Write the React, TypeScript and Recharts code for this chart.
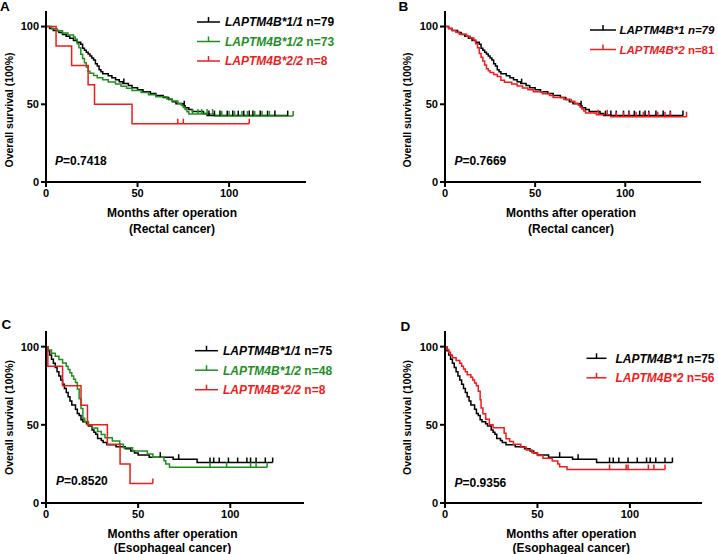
import React from 'react';
import { LineChart, Line, XAxis, YAxis } from 'recharts';

// [months, survival %, censored?]
type Pt = [number, number, number?];

const FONT = '"Liberation Sans", Arial, sans-serif';
const BLACK = '#000000';
const GREEN = '#1f8f1f';
const RED = '#ee1c1c';

const xTicks = [0, 50, 100];
const yTicks = [0, 50, 100];

// Rectal cancer, LAPTM4B*1/1 (n=79)
const rectal11: Pt[] = [
  [0, 100], [2, 98.7], [4, 97.5], [7, 96.2], [9, 94.9], [11, 93.7], [13, 92.4], [15, 91.1],
  [17, 89.9], [19, 88.6], [20, 86.1], [21, 84.8], [22, 83.5], [23, 82.3], [24, 81], [25, 79.7],
  [26, 78.5], [27, 76], [28, 74.7], [29, 72.2], [30, 70.9], [31, 69.6], [34, 68.4], [36, 67.1],
  [38, 65.8], [40, 64.5], [42, 63.3], [42.5, 63.3, 1], [45, 62], [47, 60.7], [50, 59.4], [53, 58.1],
  [57, 56.9], [60, 55.6], [64, 54.3], [67, 53], [69, 51.7], [71, 50.4], [75, 49.1], [75.5, 49.1, 1],
  [76, 47.8], [78, 46.6], [80, 45.3], [86, 44], [88, 42.7], [89, 42.7, 1], [92, 42.7, 1],
  [95, 42.7, 1], [99, 42.7, 1], [102, 42.7, 1], [105, 42.7, 1], [108, 42.7, 1], [111, 42.7, 1],
  [113, 42.7, 1], [117, 42.7, 1], [121, 42.7, 1], [125, 42.7, 1], [132, 42.7, 1],
];

// Rectal cancer, LAPTM4B*1/2 (n=73)
const rectal12: Pt[] = [
  [0, 100], [3, 98.6], [6, 97.3], [9, 95.9], [12, 94.5], [15, 93.2], [16, 91.8], [17, 89],
  [18, 86.3], [19, 82.2], [20, 79.5], [21, 76.7], [22, 74], [23, 71.2], [24, 69.9], [26, 68.5],
  [28, 67.1], [31, 65.8], [34, 64.4], [38, 63], [41, 61.6], [44, 60.3], [47, 58.9], [52, 57.5],
  [56, 56.2], [60, 54.8], [66, 53.4], [69, 52.1], [72, 50.7], [74, 49.3], [75, 47.9], [76, 46.6],
  [77, 45.2], [78, 43.8], [80, 43.8, 1], [83, 43.8, 1], [85, 43.8, 1], [88, 43.8, 1], [91, 43.8, 1],
  [92, 42.5], [96, 42.5, 1], [100, 42.5, 1], [103, 42.5, 1], [107, 42.5, 1], [110, 42.5, 1],
  [114, 42.5, 1], [118, 42.5, 1], [122, 42.5, 1], [135, 42.5, 1],
];

// Rectal cancer, LAPTM4B*2/2 (n=8)
const rectal22: Pt[] = [
  [0, 100], [5.5, 87.5], [14, 75], [23, 62.5], [26.5, 50], [47, 37.5],
  [72, 37.5, 1], [75, 37.5, 1], [111, 37.5, 1],
];

// Rectal cancer, LAPTM4B*2 carriers (n=81)
const rectal2: Pt[] = [
  [0, 100], [2, 98.8], [4, 97.5], [6, 96.3], [8, 95.1], [12, 93.8], [14, 92.6], [16, 91.4],
  [17, 88.9], [18, 86.4], [19, 82.7], [20, 80.2], [21, 77.8], [22, 75.3], [23, 72.8], [24, 71.6],
  [25, 70.4], [27, 69.1], [29, 67.9], [31, 65.4], [33, 64.2], [37, 63], [40, 61.7], [43, 60.5],
  [46, 59.3], [49, 58], [54, 56.8], [58, 55.6], [60, 54.3], [66, 53.1], [70, 51.9], [72, 50.6],
  [74, 49.4], [75, 48.1], [76, 46.9], [77, 45.7], [78, 44.4], [84, 43.2], [85, 43.2, 1],
  [90, 43.2, 1], [92, 42], [95, 42, 1], [99, 42, 1], [102, 42, 1], [106, 42, 1], [110, 42, 1],
  [113, 42, 1], [118, 42, 1], [122, 42, 1], [125, 42, 1], [134, 42, 1],
];

// Esophageal cancer, LAPTM4B*1/1 (n=75)
const eso11: Pt[] = [
  [0, 100], [1, 97.3], [2, 94.7], [3, 92], [4, 89.3], [5, 86.7], [6, 84], [7, 81.3], [8, 78.7],
  [9, 76], [10, 73.3], [11, 70.7], [12, 68], [13, 65.3], [14, 62.7], [16, 60], [17, 57.3],
  [18, 56], [19, 53.3], [20, 52], [22, 50.7], [23, 49.3], [25, 46.7], [26, 45.3], [27, 44],
  [28, 41.3], [30, 40], [31, 38.7], [33, 37.3], [38, 36], [43, 34.7], [46, 33.3], [48, 32],
  [50, 30.7], [56, 29.3], [62, 29.3, 1], [69, 28], [72, 28, 1], [82, 25.9], [89, 25.9, 1],
  [91, 25.9, 1], [94, 25.9, 1], [99, 25.9, 1], [104, 25.9, 1], [109, 25.9, 1], [111, 25.9, 1],
  [114, 25.9, 1], [119, 25.9, 1], [123, 25.9, 1],
];

// Esophageal cancer, LAPTM4B*1/2 (n=48)
const eso12: Pt[] = [
  [0, 100], [1, 97.9], [3, 95.8], [5, 93.8], [7, 91.7], [9, 89.6], [11, 87.5], [12, 85.4],
  [13, 83.3], [14, 81.3], [15, 79.2], [16, 77.1], [17, 72.9], [18, 66.7], [19, 60.4], [20, 54.2],
  [21, 52.1], [23, 50], [25, 47.9], [28, 45.8], [30, 43.8], [32, 41.7], [36, 39.6], [40, 37.5],
  [42, 35.4], [47, 33.3], [55, 31.3], [58, 29.2], [64, 27.1], [65, 25], [67, 22.9],
  [89, 22.9, 1], [98, 22.9, 1], [111, 22.9, 1], [114, 22.9, 1], [120, 22.9, 1],
];

// Esophageal cancer, LAPTM4B*2/2 (n=8)
const eso22: Pt[] = [
  [0, 100], [1, 87.5], [9, 75], [19, 62.5], [22.5, 50], [33.3, 37.5], [40.2, 25], [45.6, 12.5],
  [58, 12.5, 1],
];

// Esophageal cancer, LAPTM4B*2 carriers (n=56)
const eso2: Pt[] = [
  [0, 100], [1, 98.2], [2, 96.4], [3, 94.6], [4, 92.9], [6, 91.1], [8, 89.3], [9, 87.5],
  [10, 85.7], [11, 83.9], [12, 82.1], [14, 80.4], [15, 78.6], [16, 76.8], [17, 75], [18, 71.4],
  [19, 66.1], [19.5, 60.7], [20.5, 57.1], [22, 53.6], [24, 50], [26, 48.2], [32, 44.6],
  [33, 41.1], [35, 39.3], [37, 37.5], [41, 35.7], [44, 33.9], [47, 32.1], [50, 30.4], [53, 28.6],
  [58, 26.8], [61, 25], [62, 23.2], [66, 21.4], [89, 21.4, 1], [98, 21.4, 1], [99, 21.4, 1],
  [110, 21.4, 1], [113, 21.4, 1], [119, 21.4, 1],
];

const toRows = (pts: Pt[]) => pts.map(([t, s, c]) => ({ t, s, c: c ? 1 : 0 }));

const renderCensor = (props: any) => {
  const { cx, cy, payload, stroke, index } = props;
  if (!payload || !payload.c) return <g key={`n-${index}`} />;
  return (
    <line key={`c-${index}`} x1={cx} x2={cx} y1={cy} y2={cy - 5} stroke={stroke} strokeWidth={1.5} />
  );
};

interface Series {
  name: string;
  pts: Pt[];
  color: string;
}

interface PanelProps {
  x0: number;
  y0: number;
  w: number;
  h: number;
  xMax: number;
  series: Series[];
}

const axisStyle = { stroke: '#000', strokeWidth: 2 };
const tickStyle = { fill: '#000', fontSize: 11, fontWeight: 700, fontFamily: FONT };

const Panel: React.FC<PanelProps> = ({ x0, y0, w, h, xMax, series }) => (
  <div style={{ position: 'absolute', left: x0 - 46, top: y0 - 11 }}>
    <LineChart width={46 + w + 10} height={11 + h + 40} margin={{ top: 11, right: 10, left: 0, bottom: 10 }}>
      <XAxis
        type="number"
        dataKey="t"
        domain={[0, xMax]}
        ticks={xTicks}
        interval={0}
        allowDataOverflow
        axisLine={axisStyle}
        tickLine={axisStyle}
        tickSize={5}
        tick={tickStyle}
        height={30}
      />
      <YAxis
        type="number"
        domain={[0, 110]}
        ticks={yTicks}
        interval={0}
        allowDataOverflow
        axisLine={axisStyle}
        tickLine={axisStyle}
        tickSize={5}
        tick={tickStyle}
        width={46}
      />
      {series.map((s) => (
        <Line
          key={s.name}
          data={toRows(s.pts)}
          dataKey="s"
          type="stepAfter"
          stroke={s.color}
          strokeWidth={1.5}
          dot={renderCensor}
          activeDot={false}
          isAnimationActive={false}
        />
      ))}
    </LineChart>
  </div>
);

interface LegendRow {
  gene: string;
  n: string;
  color: string;
  nItalic?: boolean;
}

const Legend: React.FC<{ x: number; y: number; rows: LegendRow[]; lineW: number; gap: number; size?: number }> = ({
  x,
  y,
  rows,
  lineW,
  gap,
  size = 12,
}) => (
  <g>
    {rows.map((r, i) => {
      const cy = y + i * 19.5;
      return (
        <g key={r.gene}>
          <line x1={x} x2={x + lineW} y1={cy} y2={cy} stroke={r.color} strokeWidth={1.5} />
          <line x1={x + lineW / 2} x2={x + lineW / 2} y1={cy} y2={cy - 5} stroke={r.color} strokeWidth={1.5} />
          <text x={x + lineW + gap} y={cy + 4.3} fill={r.color} fontSize={size} fontWeight={700} fontFamily={FONT}>
            <tspan fontStyle="italic">{r.gene}</tspan>
            <tspan fontStyle={r.nItalic ? 'italic' : 'normal'}>{` ${r.n}`}</tspan>
          </text>
        </g>
      );
    })}
  </g>
);

const Labels: React.FC<{ yx: number; yy: number; tx: number; ty: number; sub: string; subDy: number; px: number; py: number; p: string }> = ({
  yx,
  yy,
  tx,
  ty,
  sub,
  subDy,
  px,
  py,
  p,
}) => (
  <g fontFamily={FONT} fontWeight={700} fill="#000">
    <text x={yx} y={yy} transform={`rotate(-90 ${yx} ${yy})`} textAnchor="middle" dominantBaseline="central" fontSize={10.5}>
      Overall survival (100%)
    </text>
    <text x={tx} y={ty + 4.3} textAnchor="middle" fontSize={12}>
      Months after operation
    </text>
    <text x={tx} y={ty + subDy + 4.3} textAnchor="middle" fontSize={12}>
      {sub}
    </text>
    <text x={px} y={py} fontSize={12}>
      <tspan fontStyle="italic">P</tspan>
      {`=${p}`}
    </text>
  </g>
);

const App: React.FC = () => (
  <div
    style={{
      position: 'absolute',
      left: 0,
      top: 0,
      width: 718,
      height: 554,
      overflow: 'hidden',
      background: '#fff',
      fontFamily: FONT,
    }}
  >
    <Panel
      x0={46}
      y0={11}
      w={260}
      h={171}
      xMax={142}
      series={[
        { name: 'a11', pts: rectal11, color: BLACK },
        { name: 'a12', pts: rectal12, color: GREEN },
        { name: 'a22', pts: rectal22, color: RED },
      ]}
    />
    <Panel
      x0={445}
      y0={11}
      w={256}
      h={171}
      xMax={142}
      series={[
        { name: 'b1', pts: rectal11, color: BLACK },
        { name: 'b2', pts: rectal2, color: RED },
      ]}
    />
    <Panel
      x0={46}
      y0={331}
      w={258}
      h={172}
      xMax={140}
      series={[
        { name: 'c11', pts: eso11, color: BLACK },
        { name: 'c12', pts: eso12, color: GREEN },
        { name: 'c22', pts: eso22, color: RED },
      ]}
    />
    <Panel
      x0={445}
      y0={331}
      w={257}
      h={172}
      xMax={139}
      series={[
        { name: 'd1', pts: eso11, color: BLACK },
        { name: 'd2', pts: eso2, color: RED },
      ]}
    />
    <svg width={718} height={554} style={{ position: 'absolute', left: 0, top: 0, pointerEvents: 'none' }}>
      <g fontFamily={FONT} fontWeight={700} fontSize={13.5} fill="#000">
        <text x={0} y={11}>A</text>
        <text x={398.5} y={11}>B</text>
        <text x={1.5} y={329}>C</text>
        <text x={400.5} y={330.5}>D</text>
      </g>
      <Labels yx={8.5} yy={110} tx={172} ty={213} sub="(Rectal cancer)" subDy={15.5} px={55} py={165} p="0.7418" />
      <Labels yx={406.5} yy={110} tx={571} ty={213} sub="(Rectal cancer)" subDy={15.5} px={454.5} py={164.5} p="0.7669" />
      <Labels yx={8.5} yy={417.5} tx={172.5} ty={534} sub="(Esophageal cancer)" subDy={13.5} px={56} py={485} p="0.8520" />
      <Labels yx={406.5} yy={417.5} tx={571.3} ty={534} sub="(Esophageal cancer)" subDy={13.5} px={454.5} py={486.5} p="0.9356" />
      <Legend
        x={197}
        y={22}
        lineW={23}
        gap={5}
        rows={[
          { gene: 'LAPTM4B*1/1', n: 'n=79', color: BLACK },
          { gene: 'LAPTM4B*1/2', n: 'n=73', color: GREEN },
          { gene: 'LAPTM4B*2/2', n: 'n=8', color: RED },
        ]}
      />
      <Legend
        x={590}
        y={30}
        lineW={26}
        gap={3.5}
        size={11.5}
        rows={[
          { gene: 'LAPTM4B*1', n: 'n=79', color: BLACK, nItalic: true },
          { gene: 'LAPTM4B*2', n: 'n=81', color: RED },
        ]}
      />
      <Legend
        x={195}
        y={350.7}
        lineW={23}
        gap={5}
        rows={[
          { gene: 'LAPTM4B*1/1', n: 'n=75', color: BLACK },
          { gene: 'LAPTM4B*1/2', n: 'n=48', color: GREEN },
          { gene: 'LAPTM4B*2/2', n: 'n=8', color: RED },
        ]}
      />
      <Legend
        x={586.5}
        y={358.3}
        lineW={20}
        gap={9}
        rows={[
          { gene: 'LAPTM4B*1', n: 'n=75', color: BLACK },
          { gene: 'LAPTM4B*2', n: 'n=56', color: RED },
        ]}
      />
    </svg>
  </div>
);

export default App;
